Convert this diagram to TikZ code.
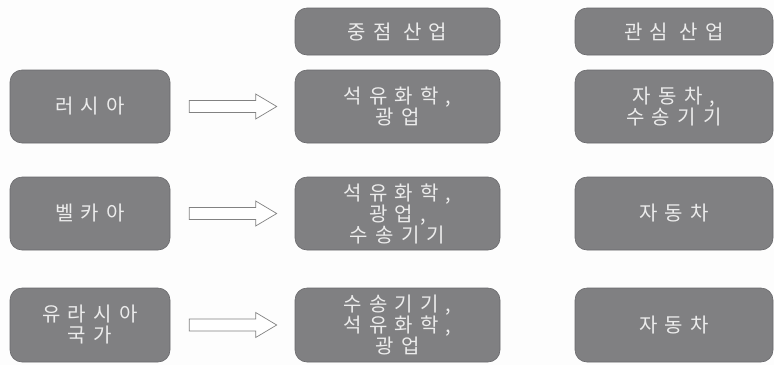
\documentclass[tikz,border=0pt]{standalone}
\usepackage{fontspec}
\newfontfamily\kr{Noto Sans CJK KR}[LetterSpace=36]
\usetikzlibrary{calc}
\definecolor{boxgray}{RGB}{128,128,130}
\definecolor{boxedge}{RGB}{105,105,108}
\definecolor{boxtext}{RGB}{236,236,236}
\definecolor{arrowedge}{RGB}{130,130,130}
\definecolor{bg}{RGB}{253,253,253}
\tikzset{
  panel/.style={rounded corners=12pt, fill=boxgray, draw=boxedge, line width=0.6pt,
    text=boxtext, align=center, inner sep=0pt,
    font=\kr\fontsize{20}{21}\selectfont},
  blockarrow/.style={fill=white, draw=arrowedge, line width=0.7pt, line join=miter}
}
\begin{document}
\begin{tikzpicture}[x=1pt,y=-1pt]
\fill[bg] (0,0) rectangle (774,365);
\useasboundingbox (0,0) rectangle (774,365);
% headers
\node[panel, minimum width=205pt, minimum height=47pt] (h2) at (397.5,31.5) {중점 산업};
\node[panel, minimum width=198pt, minimum height=47pt] (h3) at (674,31.5) {관심 산업};
% row 1
\node[panel, minimum width=160pt, minimum height=73pt] (a1) at (90,106.5) {러시아};
\node[panel, minimum width=205pt, minimum height=73pt] (b1) at (397.5,106.5) {석유화학,\\광업};
\node[panel, minimum width=198pt, minimum height=73pt] (c1) at (674,106.5) {자동차,\\수송기기};
% row 2
\node[panel, minimum width=160pt, minimum height=73pt] (a2) at (90,213.5) {벨카아};
\node[panel, minimum width=205pt, minimum height=73pt] (b2) at (397.5,213.5) {석유화학,\\광업,\\수송기기};
\node[panel, minimum width=198pt, minimum height=73pt] (c2) at (674,213.5) {자동차};
% row 3
\node[panel, minimum width=160pt, minimum height=74pt] (a3) at (90,325) {유라시아\\국가};
\node[panel, minimum width=205pt, minimum height=74pt] (b3) at (397.5,325) {수송기기,\\석유화학,\\광업};
\node[panel, minimum width=198pt, minimum height=74pt] (c3) at (674,325) {자동차};
% block arrows
\foreach \r in {1,2,3}{
  \coordinate (s\r) at ($(a\r.east)+(19,0)$);
  \coordinate (t\r) at ($(b\r.west)+(-18,0)$);
  \draw[blockarrow]
    ($(s\r)+(0,-6)$) -- ($(t\r)+(-21,-6)$) -- ($(t\r)+(-21,-12.5)$) -- (t\r)
    -- ($(t\r)+(-21,12.5)$) -- ($(t\r)+(-21,6)$) -- ($(s\r)+(0,6)$) -- cycle;
}
\end{tikzpicture}
\end{document}
